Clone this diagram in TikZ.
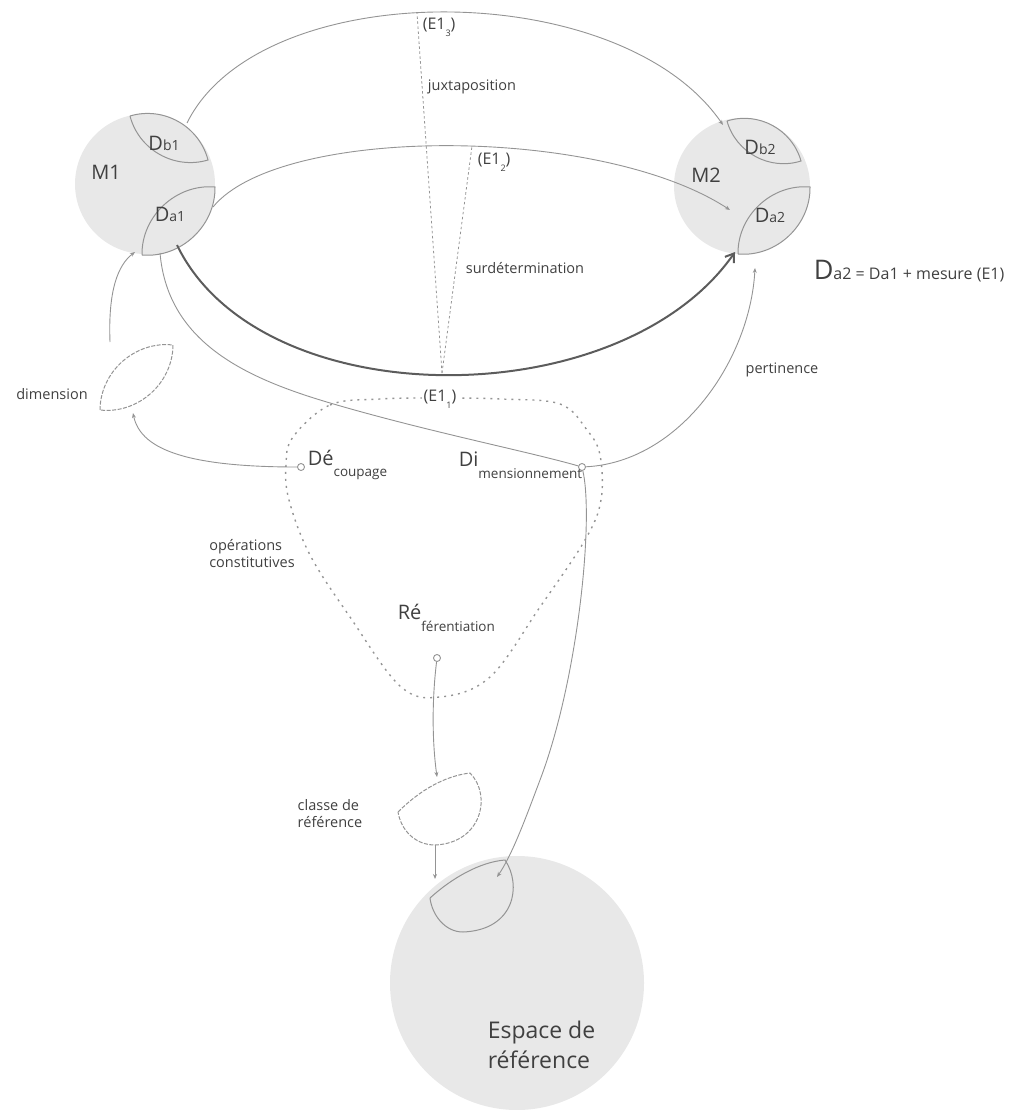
\documentclass[tikz,border=0pt]{standalone}
\usepackage{fontspec}
\setmainfont{Open Sans}
\usepackage{xcolor}
\usepackage{tikz}
\usetikzlibrary{arrows.meta}
\definecolor{fond}{rgb}{0.91,0.91,0.91}
\definecolor{trait}{rgb}{0.58,0.58,0.58}
\definecolor{encre}{rgb}{0.25,0.25,0.25}

\newcommand{\dom}[1]{D{\fontsize{14}{14}\selectfont #1}}
\newcommand{\eun}[1]{(E1\raisebox{-0.8ex}{\fontsize{9}{9}\selectfont #1})}
\newcommand{\oper}[2]{#1\raisebox{-1.1ex}{\fontsize{13.5}{13.5}\selectfont #2}}

\begin{document}
\begin{tikzpicture}[x=1pt,y=-1pt,
  line width=0.9pt,
  font=\fontsize{14.5}{17}\selectfont,
  every node/.style={text=encre},
  zone/.style={fill=fond,draw=none},
  domaine/.style={fill=fond,draw=trait,line width=1pt},
  vide/.style={draw=trait,dash pattern=on 4pt off 1.5pt,line width=1pt},
  fleche/.style={draw=trait,-{Stealth[length=5pt,width=4pt]}},
  grosse/.style={draw=encre!85,line width=2pt,-{Straight Barb[length=8pt,width=11pt]}},
  tirets/.style={draw=trait,dash pattern=on 2.5pt off 2.5pt,line width=0.8pt},
  boucle/.style={draw=trait,dash pattern=on 2pt off 5pt,line width=1.4pt},
  point/.style={circle,draw=trait,fill=white,inner sep=0pt,minimum size=7pt},
  grand/.style={font=\fontsize{20}{20}\selectfont},
  operation/.style={anchor=west,font=\fontsize{20}{20}\selectfont}]
  \useasboundingbox (0,0) rectangle (1022,1110);

  % les trois espaces
  \fill[zone] (145,184) circle (70);
  \fill[zone] (742,186) circle (68);
  \fill[zone] (517,983) circle (127);

  % domaines
  \coordinate (db1a) at (130,116);
  \coordinate (db1b) at (208,160);
  \coordinate (da1a) at (142,255);
  \coordinate (da1b) at (215,187);
  \coordinate (db2a) at (727,121);
  \coordinate (db2b) at (801,161);
  \coordinate (da2a) at (738,254);
  \coordinate (da2b) at (810,187);
  \path[domaine] (db1a) to[bend left=46] (db1b) to[bend left=46] (db1a);
  \path[domaine] (da1a) to[bend left=48] (da1b) to[bend left=48] (da1a);
  \path[domaine] (db2a) to[bend left=46] (db2b) to[bend left=46] (db2a);
  \path[domaine] (da2a) to[bend left=48] (da2b) to[bend left=48] (da2a);

  % dimension, classe de reference
  \coordinate (dima) at (100,410);
  \coordinate (dimb) at (173,345);
  \path[vide] (dima) to[bend left=48] (dimb) to[bend left=48] (dima);
  \path[vide] (398,812) .. controls (420,790) and (445,776) .. (470,773)
    .. controls (492,795) and (482,843) .. (435,845)
    .. controls (415,845) and (401,830) .. (398,812);
  \path[domaine] (430,898) .. controls (452,878) and (480,862) .. (505,860)
    .. controls (522,885) and (515,930) .. (463,932)
    .. controls (445,932) and (432,915) .. (430,898);

  % E1
  \coordinate (e1) at (442,373);
  \coordinate (e3) at (417,13);
  \coordinate (e2) at (472,146);
  \draw[tirets] (e1) -- (e3);
  \draw[tirets] (e1) -- (e2);

  % arcs
  \coordinate (jdep) at (187,123);
  \coordinate (jarr) at (723,125);
  \coordinate (sdep) at (213,207);
  \coordinate (sarr) at (730,210);
  \coordinate (gdep) at (177,245);
  \coordinate (garr) at (735,252);
  \draw[fleche] (jdep) .. controls (260,-25) and (620,-25) .. (jarr);
  \draw[fleche] (sdep) .. controls (280,125) and (600,125) .. (sarr);
  \draw[grosse] (gdep) .. controls (260,417) and (620,417) .. (garr);

  % operations constitutives
  \draw[boucle] plot[smooth cycle,tension=0.6] coordinates {(293,437) (330,405) (380,399)
    (440,398) (500,399) (560,404) (587,430) (600,455) (601,500) (585,540) (540,607)
    (490,677) (440,697) (400,686) (350,617) (310,555) (289,500) (286,465)};

  \node[point] (dec) at (301,467) {};
  \node[point] (dimc) at (582,467) {};
  \node[point] (refc) at (437,658) {};

  \coordinate (da1bas) at (160,253);
  \coordinate (dimhaut) at (110,342);
  \coordinate (da1pied) at (135,252);
  \coordinate (dimpied) at (133,413);
  \coordinate (pertarr) at (755,268);
  \coordinate (classehaut) at (437,777);
  \coordinate (classebas) at (435,845);
  \coordinate (espacehaut) at (435,879);
  \coordinate (espacearr) at (497,877);

  \draw[fleche] (dec) .. controls (180,467) and (140,447) .. (dimpied);
  \draw[fleche] (dimhaut) .. controls (108,290) and (118,265) .. (da1pied);
  \draw[draw=trait] (da1bas) .. controls (168,345) and (250,380) .. (337,405)
    .. controls (430,432) and (530,452) .. (dimc);
  \draw[fleche] (dimc) .. controls (680,462) and (750,360) .. (pertarr);
  \draw[fleche] (dimc) .. controls (594,520) and (578,680) .. (540,780)
    .. controls (525,820) and (512,855) .. (espacearr);
  \draw[fleche] (refc) .. controls (432,700) and (432,740) .. (classehaut);
  \draw[fleche] (classebas) -- (espacehaut);

  % textes
  \node[grand] (m1) at (106,172) {M1};
  \node[grand] (m2) at (706,175) {M2};
  \node[grand] (db1t) at (164,143) {\dom{b1}};
  \node[grand] (da1t) at (170,214) {\dom{a1}};
  \node[grand] (db2t) at (760,147) {\dom{b2}};
  \node[grand] (da2t) at (770,215) {\dom{a2}};
  \node[anchor=west] (formule) at (810,271) {{\fontsize{27}{27}\selectfont D}{\fontsize{16}{18}\selectfont a2 = Da1 + mesure (E1)}};
  \node[anchor=west,font=\fontsize{16}{16}\selectfont] (e3l) at (419,27) {\eun{3}};
  \node[anchor=west,font=\fontsize{16}{16}\selectfont] (e2l) at (474,162) {\eun{2}};
  \node[fill=white,inner sep=2pt,font=\fontsize{16}{16}\selectfont] (e1l) at (440,399) {\eun{1}};
  \node (juxt) at (472,87) {juxtaposition};
  \node (surd) at (525,268) {surdétermination};
  \node (dimlab) at (52,394) {dimension};
  \node (pert) at (782,370) {pertinence};
  \node[align=left] (oper) at (252,554) {opérations\\constitutives};
  \node[align=left] (classe) at (330,814) {classe de\\référence};
  \node[operation] (dectxt) at (304,465) {\oper{Dé}{coupage}};
  \node[operation] (dimtxt) at (455,465) {\oper{Di}{mensionnement}};
  \node[operation] (reftxt) at (394,618) {\oper{Ré}{férentiation}};
  \node[align=left,anchor=west,font=\fontsize{23}{30}\selectfont] (espace) at (484,1045) {Espace de\\référence};
\end{tikzpicture}
\end{document}
